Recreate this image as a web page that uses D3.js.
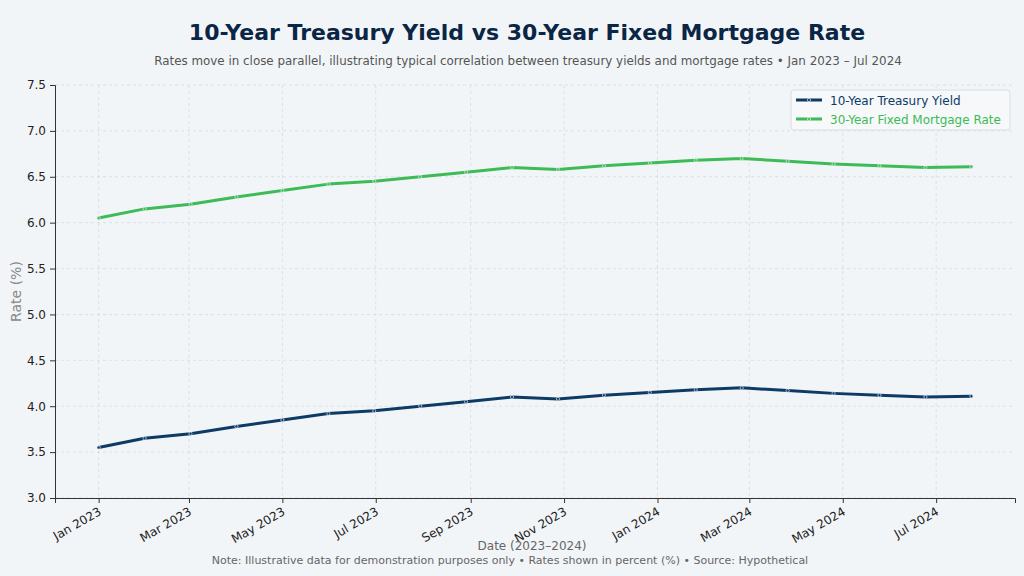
<!DOCTYPE html>
<html>
<head>
<meta charset="utf-8">
<script src="https://cdn.jsdelivr.net/npm/d3@7"></script>
<style>
  html, body { margin: 0; padding: 0; background: #f2f5f8; }
  svg { display: block; font-family: "DejaVu Sans", sans-serif; }
</style>
</head>
<body>
<div id="content"></div>
<script>
// data: one point every 30 days starting 2023-01-01
const dates = [
  "2023-01-01", "2023-01-31", "2023-03-02", "2023-04-01", "2023-05-01",
  "2023-05-31", "2023-06-30", "2023-07-30", "2023-08-29", "2023-09-28",
  "2023-10-28", "2023-11-27", "2023-12-27", "2024-01-26", "2024-02-25",
  "2024-03-26", "2024-04-25", "2024-05-25", "2024-06-24", "2024-07-24"
];
const treasury = [3.55, 3.65, 3.70, 3.78, 3.85, 3.92, 3.95, 4.00, 4.05, 4.10,
                  4.08, 4.12, 4.15, 4.18, 4.20, 4.17, 4.14, 4.12, 4.10, 4.11];
const mortgage = [6.05, 6.15, 6.20, 6.28, 6.35, 6.42, 6.45, 6.50, 6.55, 6.60,
                  6.58, 6.62, 6.65, 6.68, 6.70, 6.67, 6.64, 6.62, 6.60, 6.61];
const yTicks = [3.0, 3.5, 4.0, 4.5, 5.0, 5.5, 6.0, 6.5, 7.0, 7.5];
const xTicks = ["2023-01-01", "2023-03-01", "2023-05-01", "2023-07-01", "2023-09-01",
                "2023-11-01", "2024-01-01", "2024-03-01", "2024-05-01", "2024-07-01"];

const W = 1024, H = 576;
const mLeft = 55, mRight = 1015, mTop = 85, mBottom = 498;
const parse = d3.timeParse("%Y-%m-%d");
const dateObjs = dates.map(parse);

const svg = d3.select("#content").append("svg")
  .attr("width", W).attr("height", H);

svg.append("rect").attr("width", W).attr("height", H).attr("fill", "#f2f5f8");

// scales with ~5% margin on x
const ext = d3.extent(dateObjs);
const pad = (ext[1] - ext[0]) * 0.05;
const xScale = d3.scaleTime()
  .domain([new Date(+ext[0] - pad), new Date(+ext[1] + pad)])
  .range([mLeft, mRight]);
const yScale = d3.scaleLinear().domain([3.0, 7.5]).range([mBottom, mTop]);

// grid
const grid = svg.append("g");
grid.selectAll("line.gy").data(yTicks).enter().append("line")
  .attr("x1", mLeft).attr("x2", mRight)
  .attr("y1", d => yScale(d)).attr("y2", d => yScale(d))
  .attr("stroke", "#d5dbe2").attr("stroke-width", 0.8).attr("stroke-dasharray", "3,3");
grid.selectAll("line.gx").data(xTicks.map(parse)).enter().append("line")
  .attr("x1", d => xScale(d)).attr("x2", d => xScale(d))
  .attr("y1", mTop).attr("y2", mBottom)
  .attr("stroke", "#d5dbe2").attr("stroke-width", 0.8).attr("stroke-dasharray", "3,3");

// axes
const xAxis = d3.axisBottom(xScale).tickValues(xTicks.map(parse))
  .tickFormat(d3.timeFormat("%b %Y")).tickSizeOuter(0).tickSize(5);
const yAxis = d3.axisLeft(yScale).tickValues(yTicks)
  .tickFormat(d3.format(".1f")).tickSizeOuter(0).tickSize(5);

const gx = svg.append("g").attr("transform", "translate(0," + mBottom + ")").call(xAxis)
  .attr("font-family", "DejaVu Sans, sans-serif");
gx.select(".domain").attr("stroke", "#333").attr("stroke-width", 1);
gx.selectAll(".tick line").attr("stroke", "#333");
gx.selectAll(".tick text")
  .attr("fill", "#222").style("font-size", "12px")
  .attr("text-anchor", "end")
  .attr("y", 0).attr("dy", 0)
  .attr("transform", "translate(3,16) rotate(-30)");

const gy = svg.append("g").attr("transform", "translate(" + mLeft + ",0)").call(yAxis)
  .attr("font-family", "DejaVu Sans, sans-serif");
gy.select(".domain").attr("stroke", "#333").attr("stroke-width", 1);
gy.selectAll(".tick line").attr("stroke", "#333");
gy.selectAll(".tick text").attr("fill", "#222").style("font-size", "12px").attr("x", -9);

// lines
const series = [
  { name: "10-Year Treasury Yield", values: treasury, color: "#0d3b66" },
  { name: "30-Year Fixed Mortgage Rate", values: mortgage, color: "#3dbb57" }
];
const line = d3.line().x((d, i) => xScale(dateObjs[i])).y(d => yScale(d));

series.forEach(s => {
  svg.append("path").datum(s.values)
    .attr("fill", "none").attr("stroke", s.color).attr("stroke-width", 3)
    .attr("stroke-linejoin", "round").attr("stroke-linecap", "round")
    .attr("d", line);
  svg.append("g").selectAll("circle").data(s.values).enter().append("circle")
    .attr("cx", (d, i) => xScale(dateObjs[i])).attr("cy", d => yScale(d))
    .attr("r", 1.6).attr("fill", s.color)
    .attr("stroke", "#dfe8ee").attr("stroke-width", 0.7);
});

// legend
const lg = svg.append("g").attr("transform", "translate(791,90)");
lg.append("rect").attr("width", 219).attr("height", 40).attr("rx", 3)
  .attr("fill", "#f6f8fa").attr("stroke", "#d8dde3");
series.forEach((s, i) => {
  const y = 10 + i * 19;
  lg.append("line").attr("x1", 5).attr("x2", 31).attr("y1", y).attr("y2", y)
    .attr("stroke", s.color).attr("stroke-width", 3);
  lg.append("circle").attr("cx", 18).attr("cy", y).attr("r", 1.6).attr("fill", s.color)
    .attr("stroke", "#dfe8ee").attr("stroke-width", 0.7);
  lg.append("text").attr("x", 39).attr("y", y + 4.5)
    .attr("fill", i === 0 ? "#0d3b66" : "#3dbb57")
    .style("font-size", "12px").text(s.name);
});

// titles and labels
svg.append("text").attr("x", W / 2 + 15).attr("y", 40).attr("text-anchor", "middle")
  .attr("fill", "#0b2545").style("font-size", "22px").style("font-weight", "bold")
  .text("10-Year Treasury Yield vs 30-Year Fixed Mortgage Rate");
svg.append("text").attr("x", W / 2 + 16).attr("y", 65).attr("text-anchor", "middle")
  .attr("fill", "#555").style("font-size", "11.9px")
  .text("Rates move in close parallel, illustrating typical correlation between treasury yields and mortgage rates \u2022 Jan 2023 \u2013 Jul 2024");

svg.append("text").attr("transform", "rotate(-90)")
  .attr("x", -(mTop + mBottom) / 2).attr("y", 21).attr("text-anchor", "middle")
  .attr("fill", "#888").style("font-size", "14px").text("Rate (%)");

svg.append("text").attr("x", (mLeft + mRight) / 2 - 3).attr("y", 550).attr("text-anchor", "middle")
  .attr("fill", "#666").style("font-size", "12px").text("Date (2023\u20132024)");

svg.append("text").attr("x", (mLeft + mRight) / 2 - 25).attr("y", 564).attr("text-anchor", "middle")
  .attr("fill", "#666").style("font-size", "11px")
  .text("Note: Illustrative data for demonstration purposes only \u2022 Rates shown in percent (%) \u2022 Source: Hypothetical");
</script>
</body>
</html>
